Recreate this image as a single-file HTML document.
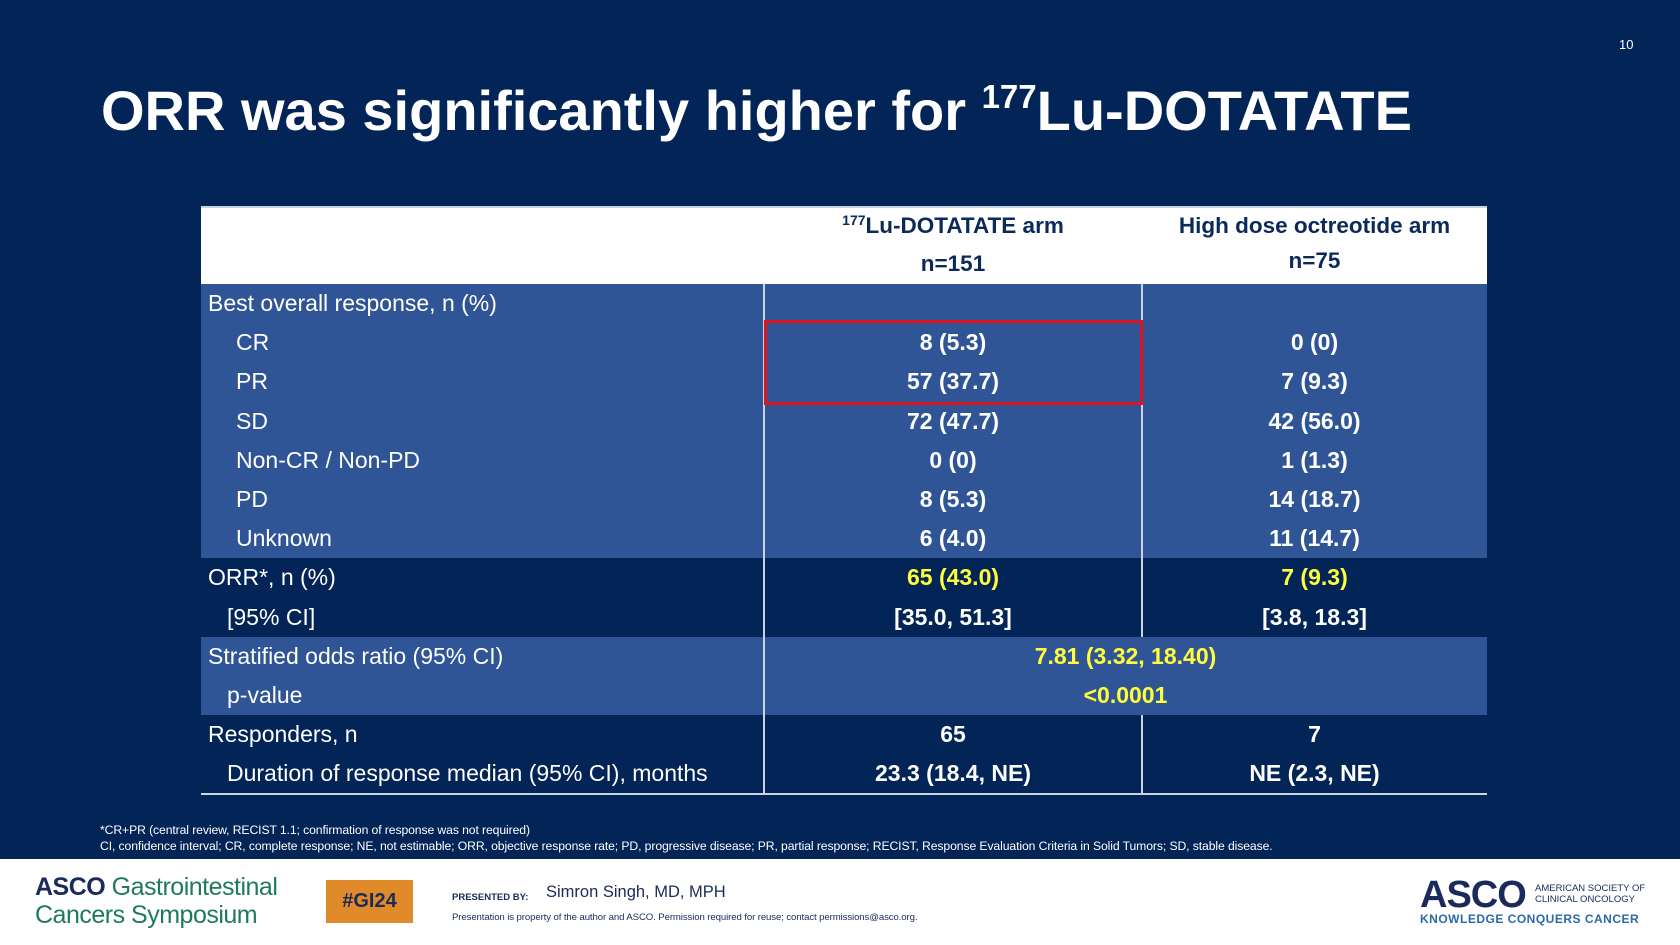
<!DOCTYPE html>
<html><head><meta charset="utf-8"><style>
*{margin:0;padding:0;box-sizing:border-box}
body{width:1680px;height:945px;background:#022456;position:relative;overflow:hidden;font-family:"Liberation Sans",sans-serif}
.a{position:absolute}
.row{position:absolute;left:201px;width:1286px;height:39.2px;color:#fff;font-size:23px}
.row .l{position:absolute;top:0;line-height:39.2px;white-space:nowrap}
.row .c{position:absolute;top:0;line-height:39.2px;text-align:center;font-weight:bold}
.c2{left:563px;width:378px}.c3{left:941px;width:345px}.cm{left:563px;width:723px}
.lb{background:#2F5597}.dk{background:#022456}
.vl{position:absolute;width:1.5px;background:#c9d3e6}
.y{color:#ffff3c}
</style></head><body>
<div class="a" style="left:1619px;top:37px;color:#fff;font-size:13px">10</div>
<div class="a" style="left:101px;top:78px;color:#fff;font-size:56px;font-weight:bold;white-space:nowrap">ORR was significantly higher for <sup style="font-size:33px;vertical-align:22px">177</sup>Lu-DOTATATE</div>
<div class="a" style="left:201px;top:206px;width:1286px;height:78px;background:#fff;border-top:2px solid #c9d3e6"></div>
<div class="a" style="left:764px;top:208px;width:378px;text-align:center;color:#0b2a5a;font-weight:bold;font-size:22.5px;line-height:35px"><sup style="font-size:14px;vertical-align:0;position:relative;top:-8px">177</sup>Lu-DOTATATE arm<br>n=151</div>
<div class="a" style="left:1142px;top:208px;width:345px;text-align:center;color:#0b2a5a;font-weight:bold;font-size:22.5px;line-height:35px">High dose octreotide arm<br>n=75</div>
<div id="rows"></div>
<div class="vl" style="left:763px;top:284px;height:510px"></div>
<div class="vl" style="left:1141px;top:284px;height:353px"></div>
<div class="vl" style="left:1141px;top:715px;height:79px"></div>
<div class="a" style="left:201px;top:793px;width:1286px;height:2px;background:#c9d3e6"></div>
<div class="a" style="left:764px;top:320px;width:379px;height:85px;border:3.5px solid #e0141e"></div>
<div class="a" style="left:100px;top:822px;color:#fff;font-size:12.2px;line-height:16px;white-space:nowrap;letter-spacing:-0.1px">*CR+PR (central review, RECIST 1.1; confirmation of response was not required)<br>CI, confidence interval; CR, complete response; NE, not estimable; ORR, objective response rate; PD, progressive disease; PR, partial response; RECIST, Response Evaluation Criteria in Solid Tumors; SD, stable disease.</div>
<div class="a" style="left:0;top:859px;width:1680px;height:86px;background:#fff"></div>
<div class="a" style="left:35px;top:873px;color:#1f7a5c;font-size:25px;line-height:28px;white-space:nowrap;letter-spacing:-0.5px"><b style="color:#1a2a5a">ASCO</b> Gastrointestinal<br>Cancers Symposium</div>
<div class="a" style="left:326px;top:880px;width:87px;height:43px;background:#e08a2a;color:#1a2a5a;font-weight:bold;font-size:20px;line-height:43px;text-align:center">#GI24</div>
<div class="a" style="left:452px;top:892px;color:#1a2a5a;font-size:9.5px;font-weight:bold">PRESENTED BY:</div>
<div class="a" style="left:546px;top:883px;color:#1a2a5a;font-size:16.5px">Simron Singh, MD, MPH</div>
<div class="a" style="left:452px;top:912px;color:#1a2a5a;font-size:9.6px;letter-spacing:-0.1px">Presentation is property of the author and ASCO. Permission required for reuse; contact permissions@asco.org.</div>
<div class="a" style="left:1420px;top:874px;color:#1a2a5a;font-size:38px;font-weight:bold;letter-spacing:-1px">ASCO</div>
<div class="a" style="left:1535px;top:883px;color:#1a2a5a;font-size:9.5px;line-height:11px">AMERICAN SOCIETY OF<br>CLINICAL ONCOLOGY</div>
<div class="a" style="left:1420px;top:912px;color:#2a6aa8;font-size:12px;font-weight:bold;letter-spacing:0.5px">KNOWLEDGE CONQUERS CANCER</div>
<script>
const labels=["Best overall response, n (%)","CR","PR","SD","Non-CR / Non-PD","PD","Unknown","ORR*, n (%)","[95% CI]","Stratified odds ratio (95% CI)","p-value","Responders, n","Duration of response median (95% CI), months"];
const indents=[7,35,35,35,35,35,35,7,26,7,26,7,26];
const luArm=["","8 (5.3)","57 (37.7)","72 (47.7)","0 (0)","8 (5.3)","6 (4.0)","65 (43.0)","[35.0, 51.3]",null,null,"65","23.3 (18.4, NE)"];
const octArm=["","0 (0)","7 (9.3)","42 (56.0)","1 (1.3)","14 (18.7)","11 (14.7)","7 (9.3)","[3.8, 18.3]",null,null,"7","NE (2.3, NE)"];
const merged=[null,null,null,null,null,null,null,null,null,"7.81 (3.32, 18.40)","<0.0001",null,null];
const shade=["lb","lb","lb","lb","lb","lb","lb","dk","dk","lb","lb","dk","dk"];
const yellow=[false,false,false,false,false,false,false,true,false,true,true,false,false];
const root=document.getElementById('rows');
labels.forEach((t,i)=>{
 const r=document.createElement('div');
 r.className='row '+shade[i];
 r.style.top=(284+i*39.2)+'px';
 
 
 const l=document.createElement('div');l.className='l';l.style.left=indents[i]+'px';l.textContent=t;
 
 
 r.appendChild(l);
 const add=(cls,txt)=>{const c=document.createElement('div');c.className='c '+cls+(yellow[i]?' y':'');c.textContent=txt;
  
  
  r.appendChild(c);};
 if(merged[i]!==null){add('cm',merged[i]);}else{add('c2',luArm[i]);add('c3',octArm[i]);}
 root.appendChild(r);
});
</script>
</body></html>
